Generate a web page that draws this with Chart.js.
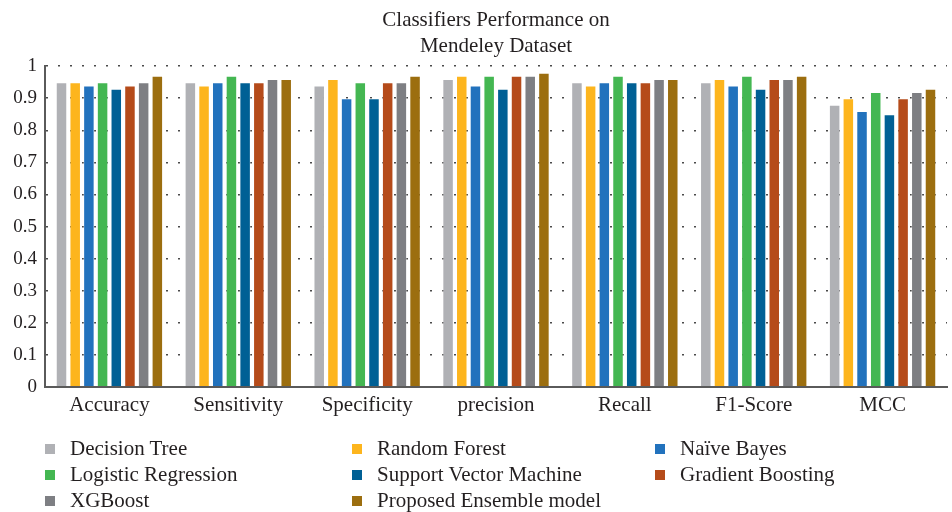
<!DOCTYPE html>
<html>
<head>
<meta charset="utf-8">
<script src="https://cdn.jsdelivr.net/npm/chart.js@4"></script>
<style>
  html, body { margin: 0; padding: 0; background: #ffffff; }
  #wrap { position: relative; width: 952px; height: 512px; }
  #legend { position: absolute; left: 0; top: 436px; width: 952px; font-family: "Liberation Serif", "DejaVu Serif", serif; font-size: 21px; color: #231f20; }
  .item { position: absolute; white-space: nowrap; line-height: 24px; }
  .box { position: absolute; width: 10px; height: 10px; top: 8px; }
</style>
</head>
<body>
<div id="wrap">
  <canvas id="c" width="952" height="512"></canvas>
  <div id="legend"></div>
</div>
<script>
const categories = ["Accuracy", "Sensitivity", "Specificity", "precision", "Recall", "F1-Score", "MCC"];
const seriesNames = ["Decision Tree", "Random Forest", "Naïve Bayes", "Logistic Regression", "Support Vector Machine", "Gradient Boosting", "XGBoost", "Proposed Ensemble model"];
const decisionTree   = [0.95, 0.95, 0.94, 0.96, 0.95, 0.95, 0.88];
const randomForest   = [0.95, 0.94, 0.96, 0.97, 0.94, 0.96, 0.90];
const naiveBayes     = [0.94, 0.95, 0.90, 0.94, 0.95, 0.94, 0.86];
const logisticReg    = [0.95, 0.97, 0.95, 0.97, 0.97, 0.97, 0.92];
const svm            = [0.93, 0.95, 0.90, 0.93, 0.95, 0.93, 0.85];
const gradBoost      = [0.94, 0.95, 0.95, 0.97, 0.95, 0.96, 0.90];
const xgboost        = [0.95, 0.96, 0.95, 0.97, 0.96, 0.96, 0.92];
const ensemble       = [0.97, 0.96, 0.97, 0.98, 0.96, 0.97, 0.93];
const titleLines = ["Classifiers Performance on", "Mendeley Dataset"];

const seriesValues = [decisionTree, randomForest, naiveBayes, logisticReg, svm, gradBoost, xgboost, ensemble];
const colors = ["#b0b1b5", "#fdb51d", "#2272bd", "#44b752", "#006095", "#b54b1a", "#7e7f83", "#9c6e0f"];
const FONT = "'Liberation Serif', 'DejaVu Serif', serif";
const TEXT = "#231f20";

const datasets = seriesNames.map((n, i) => ({
  label: n,
  data: seriesValues[i],
  backgroundColor: colors[i],
  borderColor: "rgba(255,255,255,0.35)",
  borderWidth: { top: 1, left: 1, right: 1, bottom: 0 },
  categoryPercentage: 0.85,
  barPercentage: 0.84
}));

new Chart(document.getElementById("c"), {
  type: "bar",
  data: { labels: categories, datasets },
  options: {
    responsive: false,
    animation: false,
    layout: { padding: { left: 0, right: 5, top: 0, bottom: 88 } },
    plugins: {
      legend: { display: false },
      tooltip: { enabled: false },
      title: {
        display: true,
        fullSize: false,
        text: titleLines,
        color: TEXT,
        font: { family: FONT, size: 21, weight: "normal", lineHeight: 1.22 },
        padding: { top: 8, bottom: 7 }
      }
    },
    scales: {
      x: {
        grid: { display: false, drawTicks: false },
        border: { display: true, color: "#5a5a5a", width: 2 },
        ticks: { color: TEXT, font: { family: FONT, size: 21 }, padding: 6 }
      },
      y: {
        min: 0, max: 1,
        afterFit: (s) => { s.width = 45; },
        grid: { color: "#4a4a4a", lineWidth: 1.6, drawTicks: false },
        border: { display: true, color: "#5a5a5a", width: 2, dash: [2, 10], dashOffset: 0 },
        ticks: {
          stepSize: 0.1, color: TEXT, font: { family: FONT, size: 19 }, padding: 8,
          callback: (v) => String(Math.round(v * 10) / 10)
        }
      }
    }
  }
});

// legend
const legend = document.getElementById("legend");
const colX = [45, 352, 655];
seriesNames.forEach((n, i) => {
  const col = i % 3, row = Math.floor(i / 3);
  const d = document.createElement("div");
  d.className = "item";
  d.style.left = colX[col] + "px";
  d.style.top = (row * 26) + "px";
  d.innerHTML = '<span class="box" style="background:' + colors[i] + '"></span><span style="margin-left:25px">' + n + '</span>';
  legend.appendChild(d);
});
</script>
</body>
</html>
